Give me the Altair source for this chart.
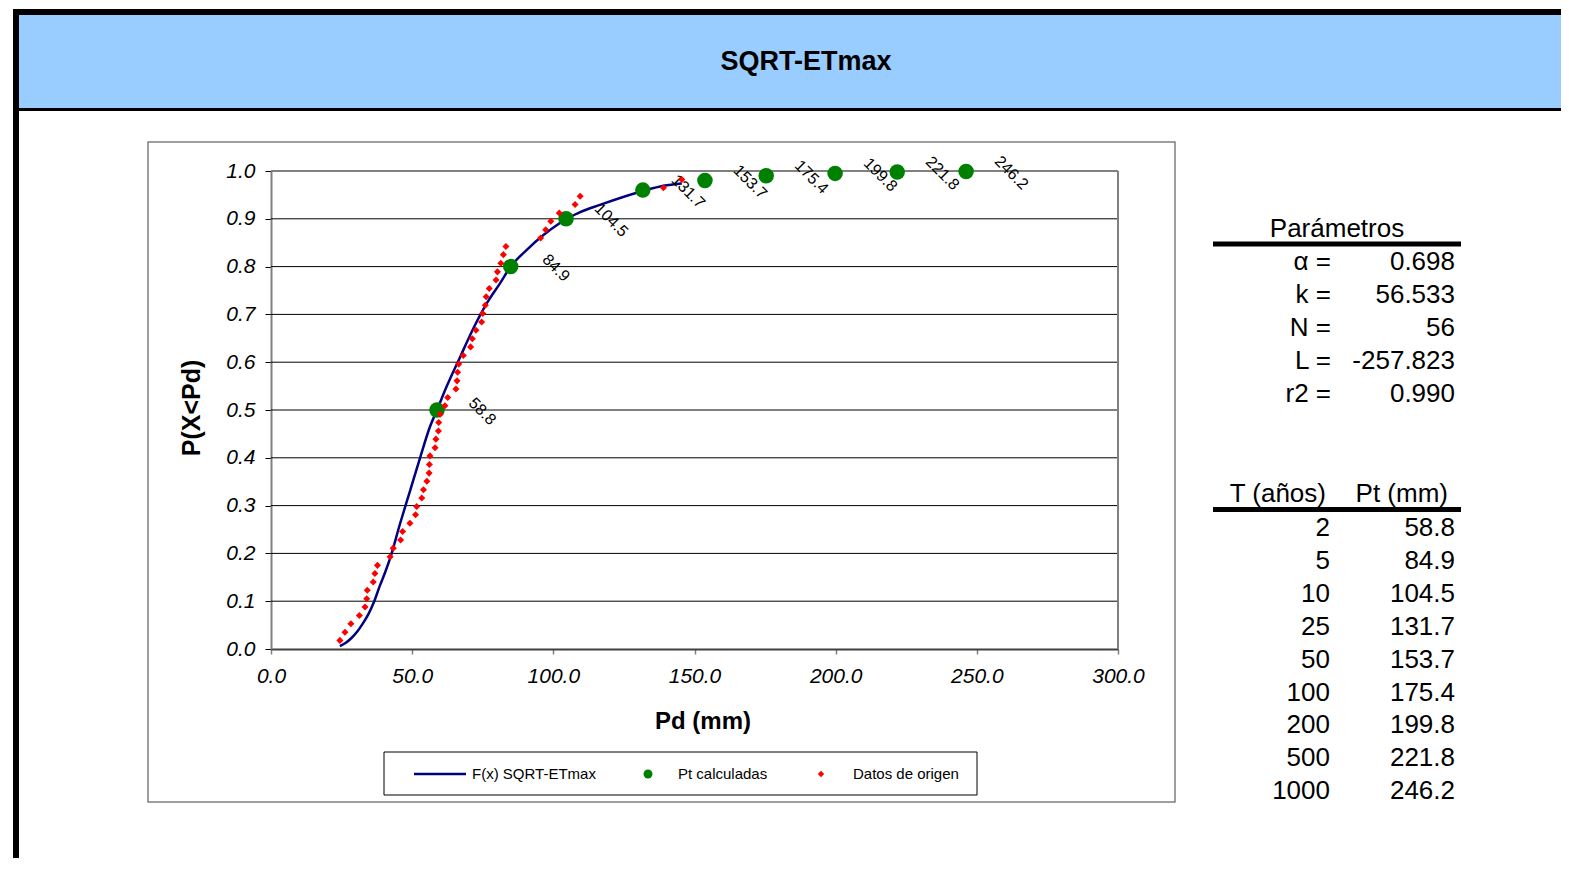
import altair as alt
import pandas as pd

FONT = "Liberation Sans"
W, H = 1553, 850

# ---------------- data ----------------
# Datos de origen (sorted observations, N = 56) and their plotting positions
obs_pd = [24.4, 26.2, 28.3, 31.3, 33.3, 33.9, 34.1, 36.2, 36.8, 37.7,
          42.2, 43.3, 45.9, 46.6, 49.2, 51.2, 51.6, 53.4, 54.0, 55.2,
          56.0, 56.1, 56.3, 58.1, 58.4, 59.3, 59.4, 59.9, 61.6, 62.6,
          65.5, 65.9, 66.1, 66.5, 68.1, 70.7, 71.3, 72.6, 74.6, 75.0,
          75.9, 76.2, 77.3, 79.7, 80.2, 81.4, 82.3, 83.2, 95.5, 97.3,
          99.1, 102.1, 107.7, 109.5, 139.0, 145.5]
obs_p = [0.018, 0.035, 0.053, 0.070, 0.088, 0.105, 0.123, 0.140, 0.158, 0.175,
         0.193, 0.211, 0.228, 0.246, 0.263, 0.281, 0.298, 0.316, 0.333, 0.351,
         0.368, 0.386, 0.404, 0.421, 0.439, 0.456, 0.474, 0.491, 0.509, 0.526,
         0.544, 0.561, 0.579, 0.596, 0.614, 0.632, 0.649, 0.667, 0.684, 0.702,
         0.719, 0.737, 0.754, 0.772, 0.789, 0.807, 0.825, 0.842, 0.860, 0.877,
         0.895, 0.912, 0.930, 0.947, 0.965, 0.982]

# F(x) SQRT-ETmax curve
curve_pd = [24.4, 26.5, 28.5, 30.5, 32.5, 34.5, 36.5, 38.6, 40.4, 42.2, 45.7, 49.2,
            52.8, 56.3, 58.8, 62.2, 67.0, 71.7, 76.4, 81.1, 84.9, 90.6, 96.5, 102.1,
            104.5, 107.7, 109.5, 116.5, 131.7, 139.0, 145.5]
curve_p = [0.006, 0.013, 0.023, 0.036, 0.053, 0.073, 0.099, 0.133, 0.160, 0.190,
           0.262, 0.330, 0.400, 0.465, 0.500, 0.549, 0.611, 0.671, 0.723, 0.765,
           0.800, 0.835, 0.866, 0.890, 0.899, 0.909, 0.914, 0.929, 0.958, 0.969, 0.974]

# Pt calculadas
T_years = ["2", "5", "10", "25", "50", "100", "200", "500", "1000"]
pt_mm = [58.8, 84.9, 104.5, 131.7, 153.7, 175.4, 199.8, 221.8, 246.2]
pt_p = [0.5, 0.8, 0.9, 0.96, 0.98, 0.99, 0.995, 0.998, 0.999]
pt_labels = ["58.8", "84.9", "104.5", "131.7", "153.7", "175.4", "199.8", "221.8", "246.2"]

# Parámetros
param_names = ["α =", "k =", "N =", "L =", "r2 ="]
param_values = ["0.698", "56.533", "56", "-257.823", "0.990"]

x_ticks = [0, 50, 100, 150, 200, 250, 300]
y_ticks = [0.0, 0.1, 0.2, 0.3, 0.4, 0.5, 0.6, 0.7, 0.8, 0.9, 1.0]
grid_levels = [0.1, 0.2, 0.3, 0.4, 0.5, 0.6, 0.7, 0.8, 0.9]

# ---------------- layout (canvas pixels) ----------------
PX0, PX1 = 263, 1110      # plot area left / right
PYB, PYT = 641, 163       # plot area bottom / top

one = pd.DataFrame({"k": [0]})
df_obs = pd.DataFrame({"pd": obs_pd, "p": obs_p})
df_curve = pd.DataFrame({"pd": curve_pd, "p": curve_p})
df_pt = pd.DataFrame({"pd": pt_mm, "p": pt_p, "lab": pt_labels})
df_grid = pd.DataFrame({"p": grid_levels})

xs = alt.Scale(domain=[0, 300], range=[PX0, PX1], nice=False, zero=False)
ys = alt.Scale(domain=[0, 1], range=[PYB, PYT], nice=False, zero=False)

ax_x = alt.Axis(orient="bottom", offset=PYB - H, values=x_ticks, format=".1f",
                grid=False, title=None, domainColor="#404040", domainWidth=2,
                tickColor="#808080", tickSize=5, tickWidth=1.5,
                labelFont=FONT, labelFontSize=21, labelFontStyle="italic",
                labelColor="black", labelPadding=11, labelFlush=False,
                labelOverlap=False)
ax_y = alt.Axis(orient="left", offset=-PX0, values=y_ticks, format=".1f",
                grid=False, title=None, domainColor="#808080", domainWidth=2,
                tickColor="black", tickSize=6, tickWidth=1,
                labelFont=FONT, labelFontSize=21, labelFontStyle="italic",
                labelColor="black", labelPadding=10, labelOverlap=False)

X = alt.X("pd:Q", scale=xs, axis=ax_x)
Y = alt.Y("p:Q", scale=ys, axis=ax_y)


def rect(x, x2, y, y2, **kw):
    return alt.Chart(one).mark_rect(**kw).encode(
        x=alt.value(x), x2=alt.value(x2), y=alt.value(y), y2=alt.value(y2))


def hrule(x, x2, y, **kw):
    return alt.Chart(one).mark_rule(**kw).encode(
        x=alt.value(x), x2=alt.value(x2), y=alt.value(y))


def vrule(x, y, y2, **kw):
    return alt.Chart(one).mark_rule(**kw).encode(
        x=alt.value(x), y=alt.value(y), y2=alt.value(y2))


def txt(x, y, text, **kw):
    kw.setdefault("font", FONT)
    kw.setdefault("color", "black")
    return alt.Chart(one).mark_text(**kw).encode(
        x=alt.value(x), y=alt.value(y), text=alt.value(text))


layers = []

# page header decorations
layers.append(rect(11, W, 7, 100, color="#99CCFF"))
layers.append(rect(5, W, 1, 7, color="black"))
layers.append(rect(5, 11, 1, H, color="black"))
layers.append(rect(11, W, 100, 103, color="black"))
layers.append(txt(798, 62, "SQRT-ETmax", fontSize=27, fontWeight="bold",
                  align="center", baseline="alphabetic"))

# chart frame
layers.append(rect(140, 1167, 134, 794, fillOpacity=0, stroke="#7f7f7f",
                   strokeWidth=1.5))

# gridlines (through the y scale)
layers.append(alt.Chart(df_grid).mark_rule(color="black", strokeWidth=1).encode(
    y=Y, x=alt.value(PX0), x2=alt.value(PX1)))

# plot-area top / right border
layers.append(hrule(PX0, PX1, PYT, color="#808080", strokeWidth=2))
layers.append(vrule(PX1, PYT, PYB, color="#808080", strokeWidth=2))

# curve
layers.append(alt.Chart(df_curve).mark_line(color="#000080", strokeWidth=2.5,
                                            interpolate="monotone").encode(x=X, y=Y))
# Pt calculadas
layers.append(alt.Chart(df_pt).mark_point(shape="circle", filled=True, size=240,
                                          color="#008000", opacity=1).encode(x=X, y=Y))
layers.append(alt.Chart(df_pt).mark_text(font=FONT, fontSize=16, angle=45, dx=33, dy=-31,
                                         align="center", baseline="middle",
                                         color="black").encode(x=X, y=Y, text="lab:N"))
# Datos de origen
layers.append(alt.Chart(df_obs).mark_point(shape="diamond", filled=True, size=50,
                                           color="#FF0000", opacity=1).encode(x=X, y=Y))

# axis titles
layers.append(txt(695, 721, "Pd (mm)", fontSize=24, fontWeight="bold",
                  align="center", baseline="alphabetic"))
layers.append(txt(192, 400, "P(X<Pd)", fontSize=25, fontWeight="bold", angle=270,
                  align="center", baseline="alphabetic"))

# legend
layers.append(rect(376, 969, 744, 787, fillOpacity=0, stroke="black", strokeWidth=1))
layers.append(hrule(406, 458, 766, color="#000080", strokeWidth=2.5))
layers.append(txt(464, 766, "F(x) SQRT-ETmax", fontSize=15, align="left", baseline="middle"))
layers.append(alt.Chart(one).mark_point(shape="circle", filled=True, size=80,
                                        color="#008000", opacity=1).encode(
    x=alt.value(640), y=alt.value(766)))
layers.append(txt(670, 766, "Pt calculadas", fontSize=15, align="left", baseline="middle"))
layers.append(alt.Chart(one).mark_point(shape="diamond", filled=True, size=40,
                                        color="#FF0000", opacity=1).encode(
    x=alt.value(813), y=alt.value(766)))
layers.append(txt(845, 766, "Datos de origen", fontSize=15, align="left", baseline="middle"))

# parameter table
layers.append(txt(1329, 229, "Parámetros", fontSize=26, align="center", baseline="alphabetic"))
layers.append(rect(1205, 1453, 233.5, 238.5, color="black"))
layers.append(txt(1323, 241, param_names, fontSize=26, align="right", baseline="top",
                  lineHeight=33))
layers.append(txt(1447, 241, param_values, fontSize=26, align="right", baseline="top",
                  lineHeight=33))

# return period table
layers.append(txt(1318, 494, "T (años)", fontSize=26, align="right", baseline="alphabetic"))
layers.append(txt(1440, 494, "Pt (mm)", fontSize=26, align="right", baseline="alphabetic"))
layers.append(rect(1205, 1453, 499, 504, color="black"))
layers.append(txt(1322, 507, T_years, fontSize=26, align="right", baseline="top",
                  lineHeight=32.9))
layers.append(txt(1447, 507, pt_labels, fontSize=26, align="right", baseline="top",
                  lineHeight=32.9))

chart = alt.layer(*layers).properties(
    width=W, height=H, padding=0,
    autosize=alt.AutoSizeParams(type="none"),
    background="white",
).configure_view(stroke="transparent")

chart.save("out.html", embed_options={"renderer": "svg", "actions": False})
